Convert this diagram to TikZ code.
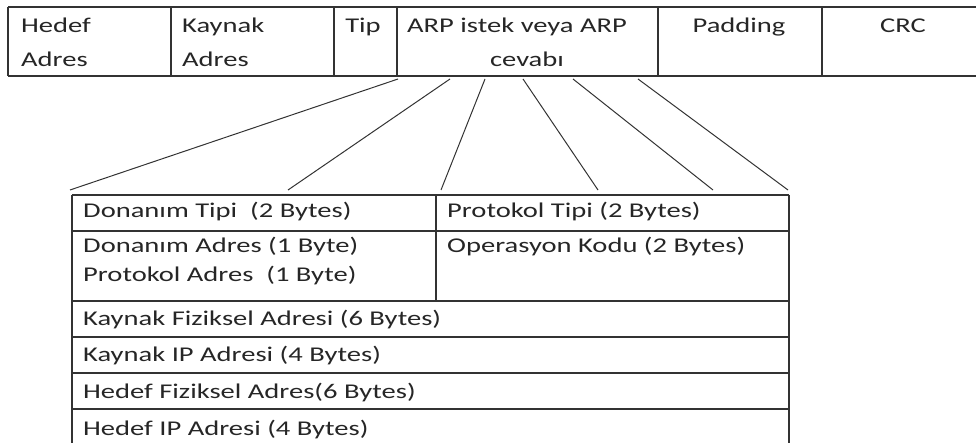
\documentclass[tikz,border=0pt]{standalone}
\usepackage{fontspec}
\setmainfont{Carlito}[FakeStretch=1.36]
\begin{document}
\begin{tikzpicture}[x=1pt,y=-1pt,
  rule/.style={draw=black!80, line width=1.3pt},
  link/.style={draw=black!80, line width=1pt},
  txt/.style={inner sep=0pt, font=\fontsize{21}{25}\selectfont, text=black!85},
  lefttxt/.style={txt, anchor=base west},
  midtxt/.style={txt, anchor=base}]
\useasboundingbox (0,0) rectangle (976,443);

% Ethernet frame header
\draw[rule] (8,7) -- (980,7) (8,76) -- (980,76) (8,7) -- (8,76);
\foreach \x in {171,334,397,658,822} \draw[rule] (\x,7) -- (\x,76);
\node[lefttxt] (hedef1) at (21,33) {Hedef};
\node[lefttxt] (hedef2) at (21,67) {Adres};
\node[lefttxt] (kaynak1) at (182,33) {Kaynak};
\node[lefttxt] (kaynak2) at (182,67) {Adres};
\node[midtxt] (tip) at (363,33) {Tip};
\node[midtxt] (arp1) at (517,33) {ARP istek veya ARP};
\node[midtxt] (arp2) at (527,67) {cevabı};
\node[midtxt] (pad) at (739,33) {Padding};
\node[midtxt] (crc) at (903,33) {CRC};

% ARP packet layout
\draw[rule] (72,195) -- (789,195);
\foreach \y in {231,301,337,373,409} \draw[rule] (72,\y) -- (789,\y);
\draw[rule] (72,195) -- (72,446) (789,195) -- (789,446) (436,195) -- (436,301);
\node[lefttxt] (hwtype) at (83,218) {Donanım Tipi\ \ (2 Bytes)};
\node[lefttxt] (prtype) at (447,218) {Protokol Tipi (2 Bytes)};
\node[lefttxt] (hwlen) at (83,253) {Donanım Adres (1 Byte)};
\node[lefttxt] (oper) at (447,253) {Operasyon Kodu (2 Bytes)};
\node[lefttxt] (prlen) at (83,282) {Protokol Adres\ \ (1 Byte)};
\node[lefttxt] (sha) at (83,325) {Kaynak Fiziksel Adresi (6 Bytes)};
\node[lefttxt] (spa) at (83,361) {Kaynak IP Adresi (4 Bytes)};
\node[lefttxt] (tha) at (83,398) {Hedef Fiziksel Adres(6 Bytes)};
\node[lefttxt] (tpa) at (83,435) {Hedef IP Adresi (4 Bytes)};

% fan-out from the ARP field to the packet layout
\foreach \i/\sx/\ex in {1/398/70, 2/450/288, 3/485/441, 4/523/598, 5/573/713, 6/638/788} {
  \coordinate (s\i) at (\sx,79);
  \coordinate (e\i) at (\ex,190);
  \draw[link] (s\i) -- (e\i);
}
\end{tikzpicture}
\end{document}
